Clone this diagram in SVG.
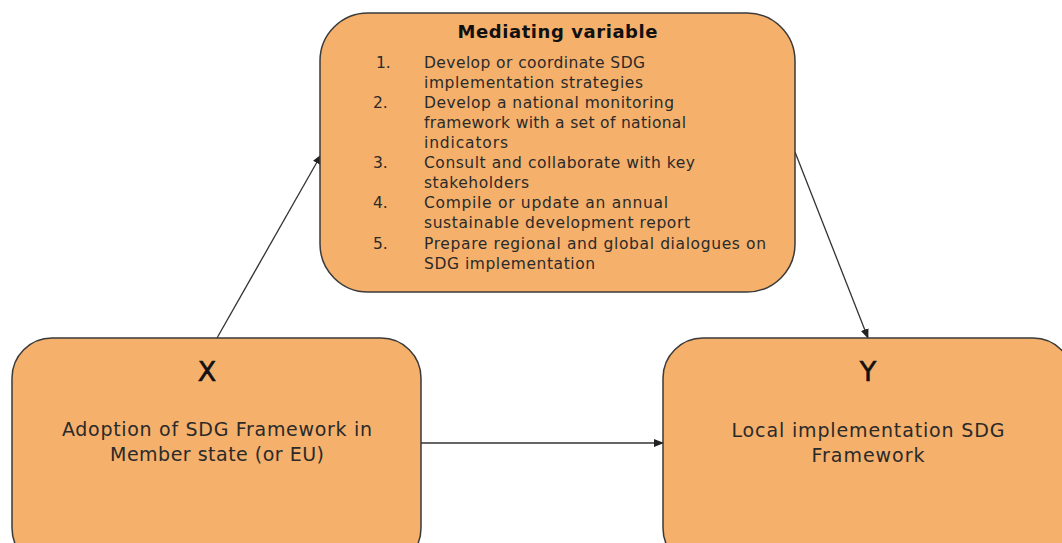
<svg xmlns="http://www.w3.org/2000/svg" width="1062" height="543" viewBox="0 0 1062 543">
<defs>
<marker id="arr" markerWidth="10" markerHeight="8" refX="9" refY="4" orient="auto" markerUnits="userSpaceOnUse">
<path d="M0,0 L10,4 L0,8 Z" fill="#222"/>
</marker>
<style>
.box{fill:#f5b06b;stroke:#3a3a3a;stroke-width:1.5}
.t{font-family:"DejaVu Sans","Open Sans","Liberation Sans",sans-serif;fill:#2a2a2a}
.li{font-size:15.5px}
.big{font-size:27px;fill:#111;stroke:#111;stroke-width:0.6}
.mid{font-size:19px}
.title{font-size:18px;font-weight:bold;fill:#111}
.c{stroke:#333;stroke-width:1.3;fill:none;marker-end:url(#arr)}
</style>
</defs>
<rect width="1062" height="543" fill="#ffffff"/>
<g id="connectors">
<line class="c" x1="217" y1="338" x2="321" y2="155"/>
<line class="c" x1="795" y1="152" x2="868" y2="338"/>
<line class="c" x1="421" y1="443" x2="663" y2="443"/>
</g>
<g id="mediating">
<rect class="box" x="320" y="13" width="475" height="279" rx="48" ry="48"/>
<text class="t title" x="557.5" y="38" text-anchor="middle" textLength="200" lengthAdjust="spacing">Mediating variable</text>
<g class="t li">
<text x="376" y="68">1.</text><text x="424" y="68" textLength="221" lengthAdjust="spacing">Develop or coordinate SDG</text>
<text x="424" y="88" textLength="219" lengthAdjust="spacing">implementation strategies</text>
<text x="373" y="108">2.</text><text x="424" y="108" textLength="250" lengthAdjust="spacing">Develop a national monitoring</text>
<text x="424" y="128" textLength="262" lengthAdjust="spacing">framework with a set of national</text>
<text x="424" y="148" textLength="84" lengthAdjust="spacing">indicators</text>
<text x="373" y="168">3.</text><text x="424" y="168" textLength="271" lengthAdjust="spacing">Consult and collaborate with key</text>
<text x="424" y="188" textLength="105" lengthAdjust="spacing">stakeholders</text>
<text x="373" y="208">4.</text><text x="424" y="208" textLength="244" lengthAdjust="spacing">Compile or update an annual</text>
<text x="424" y="228" textLength="266" lengthAdjust="spacing">sustainable development report</text>
<text x="373" y="249">5.</text><text x="424" y="249" textLength="342" lengthAdjust="spacing">Prepare regional and global dialogues on</text>
<text x="424" y="269" textLength="171" lengthAdjust="spacing">SDG implementation</text>
</g>
</g>
<g id="x-node">
<rect class="box" x="12" y="338" width="409" height="230" rx="40" ry="40"/>
<text class="t big" x="207" y="381" text-anchor="middle">X</text>
<text class="t mid" x="217" y="436" text-anchor="middle" textLength="310" lengthAdjust="spacing">Adoption of SDG Framework in</text>
<text class="t mid" x="217" y="461" text-anchor="middle" textLength="214" lengthAdjust="spacing">Member state (or EU)</text>
</g>
<g id="y-node">
<rect class="box" x="663" y="338" width="410" height="230" rx="40" ry="40"/>
<text class="t big" x="868" y="381" text-anchor="middle">Y</text>
<text class="t mid" x="868" y="437" text-anchor="middle" textLength="273" lengthAdjust="spacing">Local implementation SDG</text>
<text class="t mid" x="868" y="462" text-anchor="middle" textLength="113" lengthAdjust="spacing">Framework</text>
</g>
</svg>
